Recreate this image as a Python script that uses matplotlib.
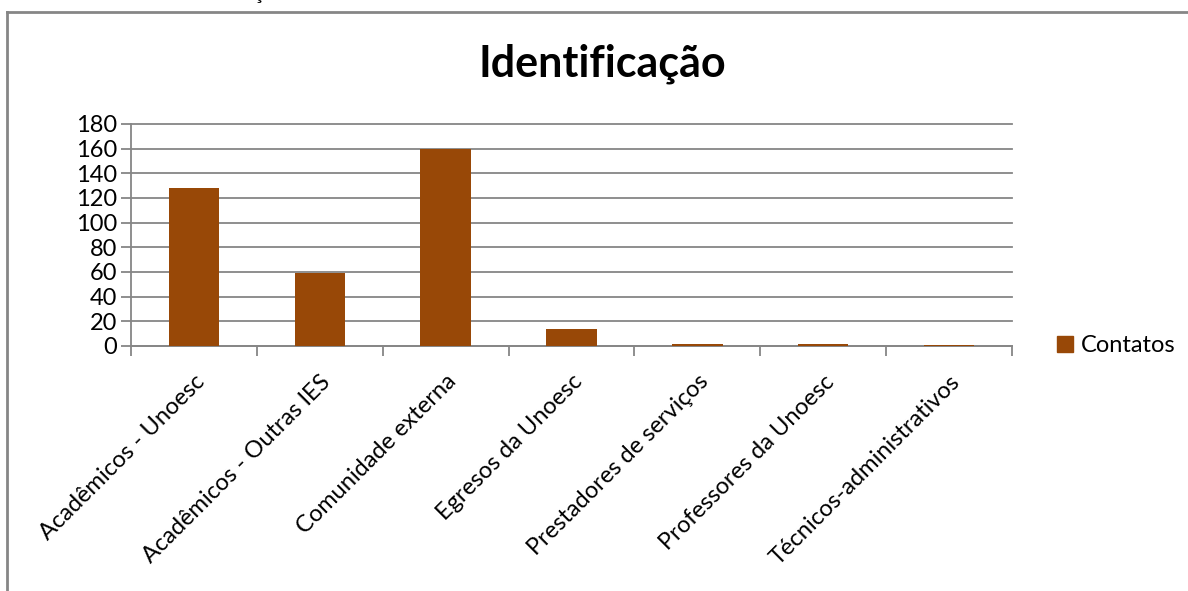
import matplotlib
matplotlib.use("Agg")
import matplotlib.pyplot as plt
from matplotlib.lines import Line2D
from matplotlib.patches import Patch

categorias = ["Acadêmicos - Unoesc", "Acadêmicos - Outras IES",
              "Comunidade externa", "Egresos da Unoesc",
              "Prestadores de serviços", "Professores da Unoesc",
              "Técnicos-administrativos"]
contatos = [128, 59, 160, 14, 2, 2, 1]
yticks = list(range(0, 181, 20))

W, H = 1188, 591
cor = "#984807"
cinza = "#868686"
fonte = "Lato"

fig = plt.figure(figsize=(W / 100, H / 100), dpi=100)
ax = fig.add_axes([131 / W, 1 - 346 / H, (1012 - 131) / W, (346 - 124) / H])

x = list(range(len(categorias)))
ax.bar(x, contatos, width=0.4, color=cor, zorder=3)
ax.set_xlim(-0.5, len(categorias) - 0.5)
ax.set_ylim(0, 180)

ax.set_yticks(yticks)
ax.set_yticklabels([str(v) for v in yticks], fontsize=17, family=fonte)
ax.yaxis.grid(True, color=cinza, linewidth=1.3, zorder=0)
for g in ax.get_ygridlines():
    g.set_clip_on(False)

ax.set_xticks(x)
ax.set_xticklabels(categorias, rotation=45, ha="right", va="top",
                   rotation_mode="anchor", fontsize=17, family=fonte)
ax.set_xticks([i + 0.5 for i in range(-1, len(categorias))], minor=True)
ax.tick_params(axis="x", which="major", length=0, pad=18)
ax.tick_params(axis="x", which="minor", length=7, color=cinza, width=1.3)
ax.tick_params(axis="y", length=7, color=cinza, width=1.3, pad=3)

for s in ["top", "right"]:
    ax.spines[s].set_visible(False)
for s in ["left", "bottom"]:
    ax.spines[s].set_color(cinza)
    ax.spines[s].set_linewidth(1.3)
ax.set_axisbelow(True)

fig.text(602 / W, 1 - 77 / H, "Identificação", ha="center", va="baseline",
         fontsize=31, fontweight="bold", family=fonte)

# moldura do gráfico
fig.add_artist(Line2D([7 / W, 7 / W], [0, 1 - 12 / H], color=cinza,
                      linewidth=2, transform=fig.transFigure))
fig.add_artist(Line2D([7 / W, 1], [1 - 12 / H, 1 - 12 / H], color=cinza,
                      linewidth=2, transform=fig.transFigure))

# resto da legenda do documento acima, cortado
fig.text(287 / W, 1 + 1 / H, "Identificação", ha="right", va="baseline",
         fontsize=16, family=fonte)

fig.legend(handles=[Patch(color=cor, label="Contatos")],
           loc="center left", bbox_to_anchor=(1036 / W, 1 - 346 / H),
           frameon=False, prop={"family": fonte, "size": 17},
           handlelength=0.68, handleheight=0.68, handletextpad=0.3)

fig.savefig("out.png", dpi=100)
